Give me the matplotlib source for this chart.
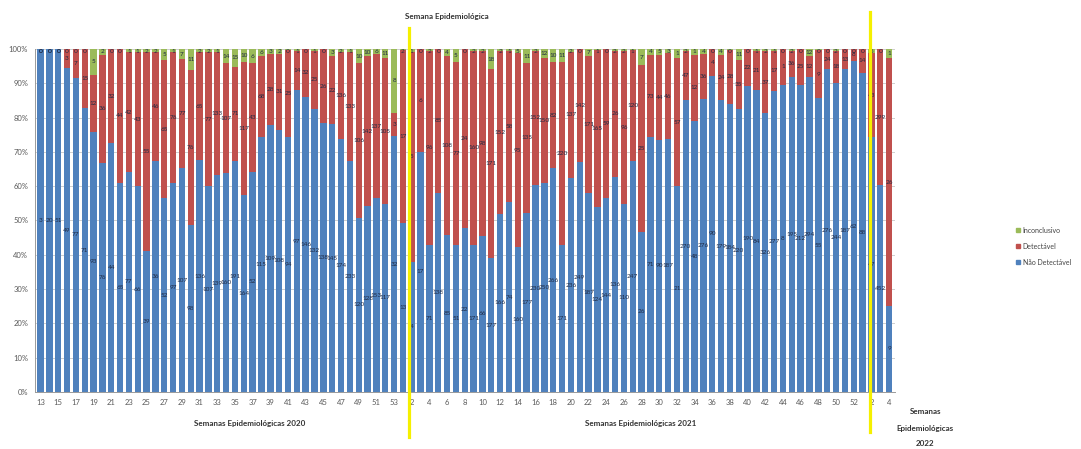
import matplotlib
matplotlib.use("Agg")
import matplotlib.pyplot as plt
import matplotlib.transforms as mtransforms
from matplotlib.lines import Line2D
from matplotlib.patches import Patch
import numpy as np

plt.rcParams['font.family'] = ['Lato', 'DejaVu Sans']

# semanas epidemiologicas
weeks_2020 = list(range(13, 54))
weeks_2021 = list(range(1, 53))
weeks_2022 = [1, 2, 3, 4]

# % nao detectavel (azul)
nd_2020 = [100, 100, 100, 94.4, 91.6, 82.7, 75.9, 66.7, 72.5, 61.0, 64.2, 60.0, 41.2, 67.3,
           56.5, 61.0, 65.2, 48.7, 67.6, 60.0, 63.3, 63.8, 67.4, 57.4, 64.2, 74.4, 77.8, 76.4,
           74.4, 88.0, 86.1, 82.4, 78.3, 78.1, 73.7, 67.2, 50.8, 54.3, 56.5, 54.8, 74.6]
nd_2021 = [49.2, 38.0, 70.0, 42.9, 58.1, 45.8, 42.9, 47.9, 42.9, 45.6, 39.0, 51.9, 55.3, 42.2,
           52.3, 60.3, 60.8, 65.2, 42.9, 62.3, 66.9, 57.9, 54.0, 56.5, 62.8, 54.8, 67.2, 46.7,
           74.2, 73.5, 73.7, 60.1, 85.1, 79.1, 85.3, 92.2, 85.1, 84.0, 82.4, 89.2, 87.9, 81.2,
           87.8, 89.5, 91.9, 89.5, 91.9, 85.6, 94.1, 90.0, 94.1, 96.6]
nd_2022 = [93.1, 74.4, 60.3, 25.1]

# % inconclusivo (verde)
inc_2020 = [0, 0, 0, 0, 0, 0, 7.6, 1.7, 0, 0, 1, 1, 1, 1, 3.2, 1, 3, 6, 1, 1, 1, 4.2, 5.2, 3.7,
            4.2, 2.2, 1.5, 1.5, 0.3, 0.5, 0, 0.5, 0, 2.2, 1, 1, 4.2, 2.2, 1.5, 2.7, 18.6]
inc_2021 = [0.3, 1, 0, 0.5, 0, 2.2, 3.7, 0, 0.5, 0.5, 5.9, 0.5, 0.5, 1.3, 4.2, 0.5, 2.7, 3.9,
            3.7, 0.8, 0, 2.2, 0.3, 0, 0.5, 0.5, 0.3, 4.7, 1.7, 1.7, 1.2, 2.7, 0.5, 1.7, 1.5, 0,
            1.7, 0.3, 3.2, 0, 0.5, 0.5, 0.5, 0, 0.5, 0, 2.2, 0.3, 0, 0.5, 0, 0]
inc_2022 = [0, 1.3, 0, 2.7]

# rotulos (contagens)
nd_lbl = ["3", "20", "51", "49", "77", "71", "93", "76", "44", "65", "77", "66", "39", "36",
          "52", "97", "107", "98", "136", "107", "139", "160", "191", "164", "52", "115", "109",
          "108", "94", "97", "146", "132", "138", "145", "174", "233", "120", "128", "153",
          "117", "32",
          "13", "4", "17", "71", "138", "85", "51", "22", "171", "66", "177", "166", "74", "160",
          "177", "230", "250", "266", "171", "236", "249", "187", "124", "144", "136", "110",
          "247", "26", "71", "90", "187", "21", "270", "48", "276", "90", "179", "184", "220",
          "190", "84", "326", "277", "8", "195", "212", "294", "55", "276", "244", "187", "62",
          "88", "47", "452", "9"]
det_lbl = ["0", "0", "0", "3", "7", "15", "12", "36", "32", "44", "42", "43", "55", "46", "65",
           "76", "77", "76", "65", "77", "133", "107", "71", "117", "43", "68", "28", "31", "25",
           "14", "32", "25", "26", "22", "136", "133", "106", "142", "137", "105", "3",
           "17", "5", "6", "96", "85", "108", "77", "24", "160", "98", "171", "152", "58", "95",
           "135", "152", "150", "82", "220", "137", "142", "171", "165", "59", "26", "96", "120",
           "25", "73", "44", "46", "57", "47", "12", "36", "4", "24", "28", "35", "22", "21",
           "37", "17", "1", "36", "25", "12", "9", "24", "18", "13", "8",
           "14", "43", "299", "26"]
inc_lbl = ["0", "0", "0", "0", "0", "0", "5", "2", "0", "0", "1", "1", "2", "2", "5", "1", "7",
           "11", "2", "2", "1", "14", "15", "10", "6", "6", "3", "2", "0", "1", "0", "1", "0",
           "3", "2", "1", "10", "10", "6", "11", "8",
           "2", "1", "0", "2", "0", "4", "5", "0", "2", "2", "18", "2", "1", "5", "11", "2", "12",
           "10", "11", "2", "0", "7", "1", "0", "2", "2", "1", "7", "4", "5", "3", "1", "2", "1",
           "4", "0", "4", "0", "11", "0", "1", "2", "1", "0", "2", "0", "12", "0", "0", "2", "0",
           "0",
           "0", "5", "0", "1"]

week_lbl = ([str(w) if w % 2 == 1 else "" for w in weeks_2020] +
            [str(w) if w % 2 == 0 else "" for w in weeks_2021] +
            [str(w) if w % 2 == 0 else "" for w in weeks_2022])

c_blue = '#4F81BD'
c_red = '#C0504D'
c_green = '#9BBB59'
c_lbl = '#1F2A44'

nd = np.array(nd_2020 + nd_2021 + nd_2022)
inc = np.array(inc_2020 + inc_2021 + inc_2022)
det = 100 - nd - inc
x = np.arange(len(nd))

fig = plt.figure(figsize=(10.81, 4.49), dpi=100)
ax = fig.add_axes([0.0324, 0.127, 0.7956, 0.764])

ax.bar(x, nd, width=0.72, color=c_blue, zorder=2)
ax.bar(x, det, width=0.72, bottom=nd, color=c_red, zorder=2)
ax.bar(x, inc, width=0.72, bottom=nd + det, color=c_green, zorder=2)

lbl_kw = dict(ha='center', va='center', fontsize=4.6, color=c_lbl, zorder=4)
for i in x:
    ax.text(i, nd[i] / 2, nd_lbl[i], **lbl_kw)
    yd = nd[i] + det[i] / 2 if det[i] > 0 else 99.3
    ax.text(i, yd, det_lbl[i], **lbl_kw)
    yi = 100 - inc[i] / 2 if inc[i] > 1.2 else 99.3
    ax.text(i, yi, inc_lbl[i], **lbl_kw)

ax.set_xlim(-0.62, 96.68)
ax.set_ylim(0, 100)
ax.set_yticks(np.arange(0, 101, 10))
ax.set_yticklabels([f"{v}%" for v in range(0, 101, 10)])
tick_pos = [i for i, s in enumerate(week_lbl) if s]
ax.set_xticks(tick_pos)
ax.set_xticklabels([week_lbl[i] for i in tick_pos])
ax.tick_params(axis='both', labelsize=5.5, colors='#595959', length=0, pad=5)
ax.yaxis.grid(True, color='#C8C8C8', lw=0.6, zorder=0)
ax.set_axisbelow(True)
for s in ['top', 'right']:
    ax.spines[s].set_visible(False)
for s in ['left', 'bottom']:
    ax.spines[s].set_color('#9A9A9A')
    ax.spines[s].set_linewidth(0.7)

# linhas amarelas de separacao dos anos
trans = mtransforms.blended_transform_factory(ax.transData, fig.transFigure)
ax.add_line(Line2D([41.7, 41.7], [0.027, 0.938], transform=trans, color='#F5F000',
                   lw=2.3, clip_on=False, zorder=5))
ax.add_line(Line2D([93.8, 93.8], [0.038, 0.973], transform=trans, color='#F5F000',
                   lw=2.3, clip_on=False, zorder=5))

txt_kw = dict(ha='center', va='center', fontsize=5.8, fontweight='bold', color='#333333')
fig.text(0.4135, 0.964, "Semana Epidemiológica", **txt_kw)
fig.text(0.231, 0.0557, "Semanas Epidemiológicas 2020", **txt_kw)
fig.text(0.593, 0.0557, "Semanas Epidemiológicas 2021", **txt_kw)
fig.text(0.856, 0.083, "Semanas", **txt_kw)
fig.text(0.856, 0.045, "Epidemiológicas", **txt_kw)
fig.text(0.856, 0.013, "2022", **txt_kw)

handles = [Patch(color=c_green, label='Inconclusivo'),
           Patch(color=c_red, label='Detectável'),
           Patch(color=c_blue, label='Não Detectável')]
fig.legend(handles=handles, loc='center left', bbox_to_anchor=(0.934, 0.452),
           frameon=False, fontsize=5, handlelength=0.55, handleheight=0.55,
           labelspacing=1.3, handletextpad=0.4, labelcolor='#444444')

fig.savefig('out.png', dpi=100)
